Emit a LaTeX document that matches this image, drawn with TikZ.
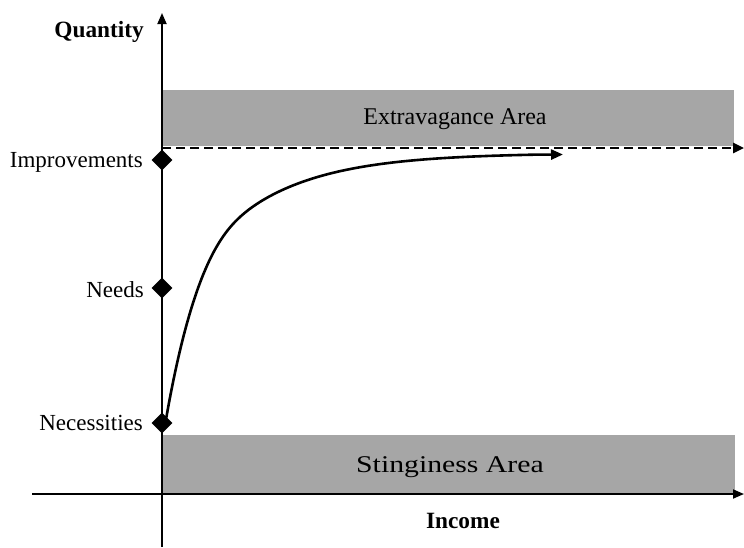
\documentclass[tikz,border=0pt]{standalone}
\usepackage{fontspec}
\setmainfont{Liberation Serif}
\newfontfamily\widefont[FakeStretch=1.24]{Liberation Serif}
\usetikzlibrary{arrows.meta,shapes.geometric}
\begin{document}
\begin{tikzpicture}[x=1pt,y=-1pt,
  lbl/.style={font=\fontsize{23}{27}\selectfont, inner sep=0pt, anchor=base east},
  axlbl/.style={font=\bfseries\fontsize{23.3}{27}\selectfont, inner sep=0pt},
  dia/.style={diamond, fill=black, inner sep=0pt, minimum size=21pt},
  area/.style={fill=black!35, draw=none},
  axis/.style={line width=1.8pt, -{Triangle[length=11pt,width=9pt]}}
]
\useasboundingbox (0,0) rectangle (744,547);
% areas
\fill[area] (163,90) rectangle (734,146);
\fill[area] (163,435) rectangle (735,493);
\node[font=\fontsize{24}{28}\selectfont, inner sep=0pt, anchor=base] (ext) at (455,124) {Extravagance Area};
\node[font=\widefont\fontsize{24}{28}\selectfont, inner sep=0pt, anchor=base] (sti) at (450,472) {Stinginess Area};
% axes
\coordinate (yb) at (162,547);
\coordinate (yt) at (162,13);
\coordinate (xl) at (32,494);
\coordinate (xr) at (744,494);
\draw[axis] (yb) -- (yt);
\draw[axis] (xl) -- (xr);
% dashed limit
\coordinate (dl) at (162,148);
\coordinate (dr) at (744,148);
\draw[line width=2.6pt, dash pattern=on 9pt off 5pt, -{Triangle[length=11pt,width=10pt]}] (dl) -- (dr);
% diamonds
\node[dia] (imp) at (162,160) {};
\node[dia] (need) at (162,288) {};
\node[dia] (nec) at (162,423) {};
\node[lbl] (implbl) at (143,167) {Improvements};
\node[lbl] (needlbl) at (144,297) {Needs};
\node[lbl] (neclbl) at (143,430) {Necessities};
% axis labels
\node[axlbl, anchor=base east] (q) at (144,37) {Quantity};
\node[axlbl, anchor=base] (inc) at (463,528) {Income};
% curve
\coordinate (cend) at (563,154.5);
\draw[line width=2.6pt, line join=round, -{Triangle[length=12pt,width=10pt]}]
  plot[domain=0:370, samples=90, smooth, variable=\u]
    ({165+\u}, {153+272*exp(-(0.0215*\u - 0.1104*(max((\u-60)/12,0)+ln(1+exp(-abs((\u-60)/12))) - 0.0067)))})
  -- (cend);
\end{tikzpicture}
\end{document}
